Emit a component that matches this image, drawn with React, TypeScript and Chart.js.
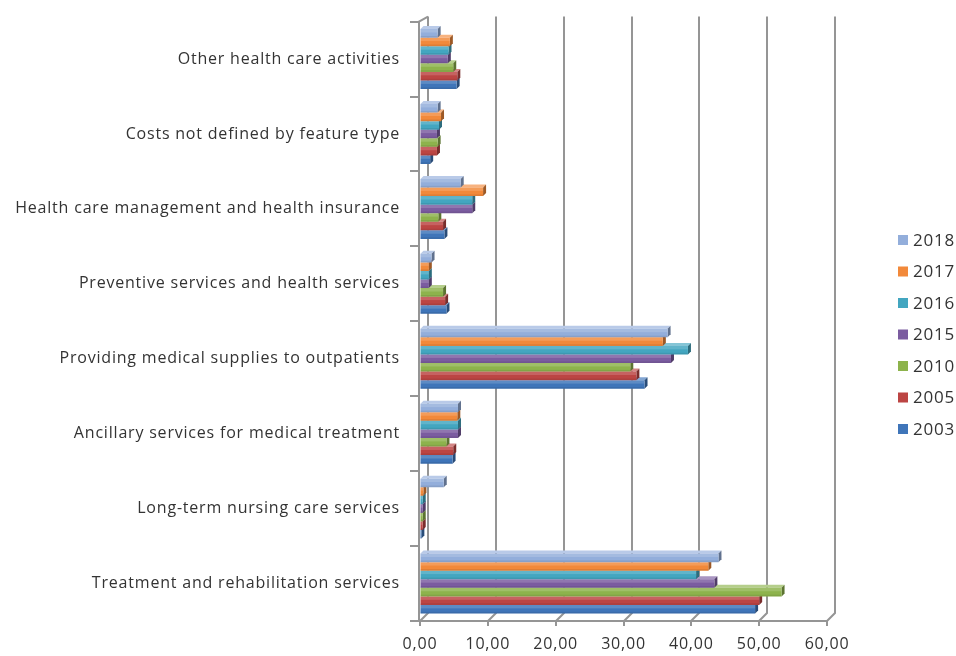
import React, { useEffect, useRef } from "react";
import { Chart, registerables } from "chart.js";

Chart.register(...registerables);

// Categories, listed top to bottom as they appear on the vertical axis
const CATEGORIES = [
  "Other health care activities",
  "Costs not defined by feature type",
  "Health care management and health insurance",
  "Preventive services and health services",
  "Providing medical supplies to outpatients",
  "Ancillary services for medical treatment",
  "Long-term nursing care services",
  "Treatment and rehabilitation services",
];

// Series, in the order they are stacked inside each group (top to bottom)
const YEARS = ["2018", "2017", "2016", "2015", "2010", "2005", "2003"];

const V2018 = [2.6, 2.6, 6.0, 1.7, 36.5, 5.6, 3.5, 44.0];
const V2017 = [4.4, 3.1, 9.3, 1.3, 35.8, 5.5, 0.5, 42.5];
const V2016 = [4.2, 2.8, 7.7, 1.3, 39.5, 5.6, 0.4, 40.7];
const V2015 = [4.1, 2.5, 7.7, 1.3, 37.0, 5.6, 0.4, 43.4];
const V2010 = [4.9, 2.6, 2.7, 3.4, 31.0, 3.9, 0.4, 53.3];
const V2005 = [5.5, 2.5, 3.4, 3.7, 31.9, 4.9, 0.4, 50.0];
const V2003 = [5.4, 1.5, 3.6, 3.9, 33.1, 4.8, 0.2, 49.4];

const SERIES = [V2018, V2017, V2016, V2015, V2010, V2005, V2003];
const COLORS = ["#93AEDB", "#F2893A", "#43A6C0", "#7B5CA0", "#8DB34C", "#BC4543", "#3F75B9"];

const X_TICK_VALUES = [0, 10, 20, 30, 40, 50, 60];
const X_TICK_LABELS = ["0,00", "10,00", "20,00", "30,00", "40,00", "50,00", "60,00"];

const FONT = "'Open Sans', 'Noto Sans', sans-serif";
const TEXT = "#333333";
const AXIS = "#959595";
const DEPTH = 8; // wall depth offset
const BAR_DEPTH = 3; // bar side/top face offset

function mix(hex: string, target: number, f: number): string {
  const n = parseInt(hex.slice(1), 16);
  const r = (n >> 16) & 255;
  const g = (n >> 8) & 255;
  const b = n & 255;
  const m = (c: number) => Math.round(c + (target - c) * f);
  return `rgb(${m(r)},${m(g)},${m(b)})`;
}

// Back wall, floor edge and axis lines drawn in a pseudo-3D frame
const framePlugin = {
  id: "frame3d",
  beforeDraw(chart: any) {
    // slightly wider letter spacing for the axis labels
    (chart.ctx as any).letterSpacing = "0.8px";
  },
  beforeDatasetsDraw(chart: any) {
    const { ctx, chartArea } = chart;
    const xs = chart.scales.x;
    const ys = chart.scales.y;
    const { top, bottom, left } = chartArea;
    ctx.save();
    ctx.strokeStyle = AXIS;
    ctx.lineWidth = 2;
    ctx.lineCap = "butt";

    const backTop = top - 5;
    const backBottom = bottom - DEPTH;

    // vertical grid lines on the back wall, with floor diagonals
    X_TICK_VALUES.forEach((v) => {
      const x = Math.round(xs.getPixelForValue(v));
      ctx.beginPath();
      ctx.moveTo(x + DEPTH, backTop);
      ctx.lineTo(x + DEPTH, backBottom);
      ctx.lineTo(x, bottom);
      ctx.stroke();
      // tick below the front axis
      ctx.beginPath();
      ctx.moveTo(x, bottom);
      ctx.lineTo(x, bottom + 5);
      ctx.stroke();
    });

    // front horizontal axis line
    ctx.beginPath();
    ctx.moveTo(left - 2, bottom);
    ctx.lineTo(xs.getPixelForValue(60), bottom);
    ctx.stroke();

    // front vertical axis line and side wall top edge
    ctx.beginPath();
    ctx.moveTo(left - 1, bottom);
    ctx.lineTo(left - 1, top);
    ctx.lineTo(left + DEPTH, backTop);
    ctx.stroke();

    // category boundary ticks on the vertical axis
    const n = CATEGORIES.length;
    const band = (ys.getPixelForValue(n - 1) - ys.getPixelForValue(0)) / (n - 1);
    for (let i = 0; i <= n; i++) {
      const y = Math.round(ys.getPixelForValue(0) - band / 2 + i * band);
      ctx.beginPath();
      ctx.moveTo(left - 10, y);
      ctx.lineTo(left - 1, y);
      ctx.stroke();
    }

    // bar top faces and end caps, behind the front faces
    for (let d = chart.data.datasets.length - 1; d >= 0; d--) {
      const meta = chart.getDatasetMeta(d);
      const color = COLORS[d];
      meta.data.forEach((bar: any) => {
        const { x, y, base, height } = bar.getProps(["x", "y", "base", "height"], true);
        const t = y - height / 2;
        const b = y + height / 2;
        ctx.fillStyle = mix(color, 255, 0.35);
        ctx.beginPath();
        ctx.moveTo(base, t);
        ctx.lineTo(base + BAR_DEPTH, t - BAR_DEPTH);
        ctx.lineTo(x + BAR_DEPTH, t - BAR_DEPTH);
        ctx.lineTo(x, t);
        ctx.closePath();
        ctx.fill();
        ctx.fillStyle = mix(color, 0, 0.35);
        ctx.beginPath();
        ctx.moveTo(x, t);
        ctx.lineTo(x + BAR_DEPTH, t - BAR_DEPTH);
        ctx.lineTo(x + BAR_DEPTH, b - BAR_DEPTH);
        ctx.lineTo(x, b);
        ctx.closePath();
        ctx.fill();
      });
    }
    ctx.restore();
  },
  afterDatasetsDraw(chart: any) {
    // soft highlight across the upper part of each front face
    const { ctx } = chart;
    ctx.save();
    chart.data.datasets.forEach((_: any, d: number) => {
      chart.getDatasetMeta(d).data.forEach((bar: any) => {
        const { x, y, base, height } = bar.getProps(["x", "y", "base", "height"], true);
        const t = y - height / 2;
        ctx.fillStyle = "rgba(255,255,255,0.16)";
        ctx.fillRect(base, t, x - base, height * 0.4);
        ctx.fillStyle = "rgba(0,0,0,0.08)";
        ctx.fillRect(base, y + height * 0.3, x - base, height * 0.2);
      });
    });
    ctx.restore();
  },
  afterDraw(chart: any) {
    // legend on the right
    const { ctx } = chart;
    ctx.save();
    (ctx as any).letterSpacing = "0.8px";
    ctx.font = `17px ${FONT}`;
    ctx.textBaseline = "middle";
    ctx.textAlign = "left";
    YEARS.forEach((year, i) => {
      const cy = 240 + i * 31.5;
      ctx.fillStyle = COLORS[i];
      ctx.fillRect(898, cy - 5, 10, 10);
      ctx.fillStyle = TEXT;
      ctx.fillText(year, 913, cy + 1);
    });
    ctx.restore();
  },
};

export default function App() {
  const canvasRef = useRef<HTMLCanvasElement | null>(null);

  useEffect(() => {
    const canvas = canvasRef.current;
    if (!canvas) return;
    const chart = new Chart(canvas, {
      type: "bar",
      data: {
        labels: CATEGORIES,
        datasets: YEARS.map((year, i) => ({
          label: year,
          data: SERIES[i],
          backgroundColor: COLORS[i],
          borderWidth: 0,
          categoryPercentage: 0.8,
          barPercentage: 1.0,
        })),
      },
      options: {
        indexAxis: "y",
        animation: false,
        responsive: true,
        maintainAspectRatio: false,
        devicePixelRatio: 1,
        layout: { padding: { top: 18, right: 129, bottom: 0, left: 0 } },
        plugins: {
          legend: { display: false },
          tooltip: { enabled: false },
        },
        scales: {
          x: {
            min: 0,
            max: 60,
            afterFit: (scale: any) => {
              scale.height = 35;
            },
            afterBuildTicks: (scale: any) => {
              scale.ticks = X_TICK_VALUES.map((v) => ({ value: v }));
            },
            ticks: {
              padding: 9,
              color: TEXT,
              font: { family: FONT, size: 16 },
              callback: (_v: any, i: number) => X_TICK_LABELS[i],
              maxRotation: 0,
            },
            grid: { color: "transparent", drawTicks: true, tickLength: 5 },
            border: { display: false },
          },
          y: {
            afterFit: (scale: any) => {
              scale.width = 420;
            },
            ticks: {
              padding: 12,
              color: TEXT,
              font: { family: FONT, size: 16 },
            },
            grid: { color: "transparent", drawTicks: true, tickLength: 8 },
            border: { display: false },
          },
        },
      },
      plugins: [framePlugin],
    });
    return () => chart.destroy();
  }, []);

  return (
    <div style={{ position: "absolute", left: 0, top: 0, width: 956, height: 656, background: "#fff" }}>
      <canvas ref={canvasRef} />
    </div>
  );
}
